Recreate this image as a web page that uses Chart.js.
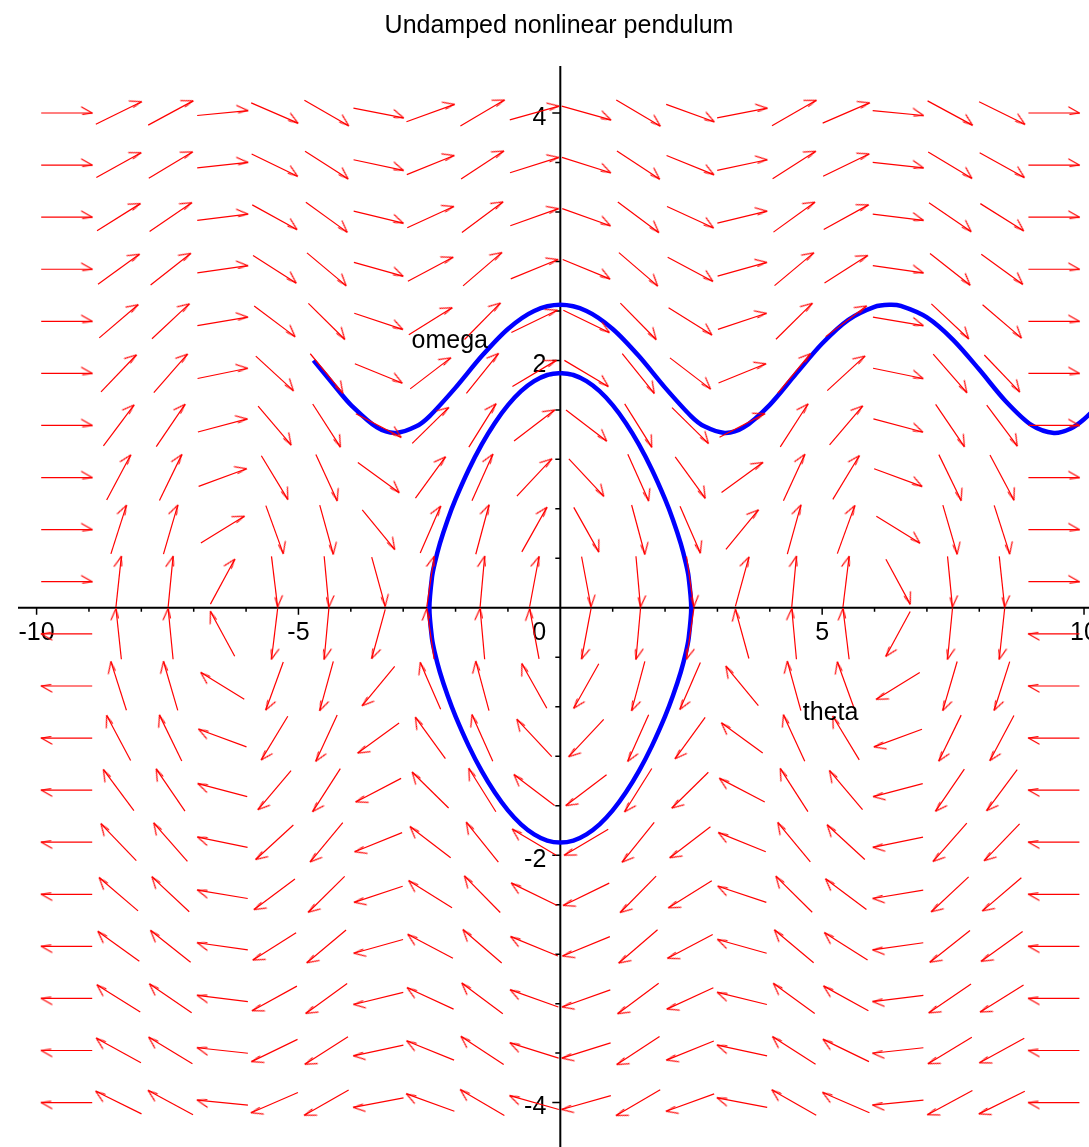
<!DOCTYPE html>
<html>
<head>
<meta charset="utf-8">
<script src="https://cdn.jsdelivr.net/npm/chart.js@4.4.1/dist/chart.umd.min.js"></script>
<style>
  html, body { margin: 0; padding: 0; background: #ffffff; }
  canvas { display: block; }
</style>
</head>
<body>
<canvas id="c" width="1089" height="1147"></canvas>
<script>
// ---------------- data ----------------
const chartTitle = 'Undamped nonlinear pendulum';
const xAxisName = 'theta';
const yAxisName = 'omega';

// direction-field grid (20 x 20)
const thetaGrid = [-9.425, -8.433, -7.441, -6.449, -5.456, -4.464, -3.472, -2.480, -1.488, -0.496,
                    0.496,  1.488,  2.480,  3.472,  4.464,  5.456,  6.449,  7.441,  8.433,  9.425];
const omegaGrid = [-4.000, -3.579, -3.158, -2.737, -2.316, -1.895, -1.474, -1.053, -0.632, -0.211,
                    0.211,  0.632,  1.053,  1.474,  1.895,  2.316,  2.737,  3.158,  3.579,  4.000];
// d(omega)/dt for each theta column (d(theta)/dt is the row's omega)
const omegaDot = [0.000, 0.837, 0.916, 0.165, -0.736, -0.969, -0.325, 0.614, 0.997, 0.476,
                  -0.476, -0.997, -0.614, 0.325, 0.969, 0.736, -0.165, -0.916, -0.837, 0.000];

// solution curves [theta, omega]
const orbitRotating = [
  [-4.712, 2.000], [-4.5, 1.892], [-4.25, 1.763], [-4.0, 1.641], [-3.5, 1.458], [-3.142, 1.414],
  [-2.75, 1.467], [-2.5, 1.548], [-2.0, 1.780], [-1.5, 2.035], [-1.0, 2.254], [-0.5, 2.399],
  [0.0, 2.449], [0.5, 2.399], [1.0, 2.254], [1.5, 2.035], [2.0, 1.780], [2.5, 1.548],
  [2.75, 1.467], [3.142, 1.414], [3.5, 1.458], [4.0, 1.641], [4.5, 1.892], [5.0, 2.137],
  [5.5, 2.328], [6.0, 2.433], [6.283, 2.449], [6.5, 2.440], [7.0, 2.347], [7.5, 2.166],
  [8.0, 1.926], [8.5, 1.672], [9.0, 1.476], [9.425, 1.414], [9.75, 1.450], [10.0, 1.524], [10.3, 1.648]
];
const orbitClosed = [
  [0.0, 1.898], [0.25, 1.882], [0.5, 1.832], [0.75, 1.751], [1.0, 1.638], [1.25, 1.494],
  [1.5, 1.321], [1.75, 1.116], [2.0, 0.878], [2.15, 0.712], [2.3, 0.519], [2.4, 0.357],
  [2.45, 0.249], [2.5, 0.0], [2.45, -0.249], [2.4, -0.357], [2.3, -0.519], [2.15, -0.712],
  [2.0, -0.878], [1.75, -1.116], [1.5, -1.321], [1.25, -1.494], [1.0, -1.638], [0.75, -1.751],
  [0.5, -1.832], [0.25, -1.882], [0.0, -1.898], [-0.25, -1.882], [-0.5, -1.832], [-0.75, -1.751],
  [-1.0, -1.638], [-1.25, -1.494], [-1.5, -1.321], [-1.75, -1.116], [-2.0, -0.878], [-2.15, -0.712],
  [-2.3, -0.519], [-2.4, -0.357], [-2.45, -0.249], [-2.5, 0.0], [-2.45, 0.249], [-2.4, 0.357],
  [-2.3, 0.519], [-2.15, 0.712], [-2.0, 0.878], [-1.75, 1.116], [-1.5, 1.321], [-1.25, 1.494],
  [-1.0, 1.638], [-0.75, 1.751], [-0.5, 1.832], [-0.25, 1.882], [0.0, 1.898]
];

// axes ticks
const xTicks = [-10, -9, -8, -7, -6, -5, -4, -3, -2, -1, 1, 2, 3, 4, 5, 6, 7, 8, 9, 10];
const xLabelValues = [-10, -5, 0, 5, 10];
const xTickLabels = ['-10', '-5', '0', '5', '10'];
const yTicks = [-4, -3.6, -3.2, -2.8, -2.4, -2, -1.6, -1.2, -0.8, -0.4,
                 0.4, 0.8, 1.2, 1.6, 2, 2.4, 2.8, 3.2, 3.6, 4];
const yLabelValues = [4, 2, -2, -4];
const yTickLabels = ['4', '2', '-2', '-4'];

// ---------------- rendering ----------------
const FONT = '25px "Liberation Sans", Arial, Helvetica, sans-serif';
const ARROW_HALF = 25.5;

const arrowPts = [];
thetaGrid.forEach((t, i) => omegaGrid.forEach(w => arrowPts.push({ x: t, y: w, f: omegaDot[i] })));

function arrowAngle(c) {
  const p = c.raw;
  if (!p || p.f === undefined) return 0;
  const xs = c.chart.scales.x, ys = c.chart.scales.y;
  const kx = xs.getPixelForValue(1) - xs.getPixelForValue(0);
  const ky = ys.getPixelForValue(1) - ys.getPixelForValue(0);
  return Math.atan2(p.f * ky, p.y * kx) * 180 / Math.PI;
}

function makeHead() {
  const cv = document.createElement('canvas');
  cv.width = 60; cv.height = 20;
  const g = cv.getContext('2d');
  g.strokeStyle = '#ff0000';
  g.lineWidth = 1.2;
  g.lineCap = 'round';
  const tx = 30 + ARROW_HALF, ty = 10;
  g.beginPath();
  g.moveTo(tx, ty); g.lineTo(tx - 10.6, ty - 6.1);
  g.moveTo(tx, ty); g.lineTo(tx - 9.5, ty + 1.4);
  g.stroke();
  return cv;
}
const headImg = makeHead();

const axesPlugin = {
  id: 'mapleAxes',
  beforeDatasetsDraw(chart) {
    const { ctx, chartArea: a, scales: { x, y } } = chart;
    const x0 = x.getPixelForValue(0), y0 = y.getPixelForValue(0);
    ctx.save();
    ctx.strokeStyle = '#000000';
    ctx.lineWidth = 2;
    ctx.beginPath();
    ctx.moveTo(a.left, y0); ctx.lineTo(a.right, y0);
    ctx.moveTo(x0, a.top); ctx.lineTo(x0, a.bottom);
    ctx.stroke();
    ctx.lineWidth = 1.5;
    ctx.beginPath();
    xTicks.forEach(v => {
      const px = x.getPixelForValue(v);
      const len = xLabelValues.includes(v) ? 7 : 4;
      ctx.moveTo(px, y0); ctx.lineTo(px, y0 + len);
    });
    yTicks.forEach(v => {
      const py = y.getPixelForValue(v);
      const len = yLabelValues.includes(v) ? 8 : 5;
      ctx.moveTo(x0, py); ctx.lineTo(x0 - len, py);
    });
    ctx.stroke();
    ctx.fillStyle = '#000000';
    ctx.font = FONT;
    ctx.textBaseline = 'alphabetic';
    ctx.textAlign = 'center';
    xLabelValues.forEach((v, i) => {
      let px = x.getPixelForValue(v);
      if (v === 0) px -= 21;
      ctx.fillText(xTickLabels[i], px, y0 + 32);
    });
    ctx.textAlign = 'right';
    yLabelValues.forEach((v, i) => {
      ctx.fillText(yTickLabels[i], x0 - 14, y.getPixelForValue(v) + 11.5);
    });
    ctx.restore();
  },
  afterDatasetsDraw(chart) {
    const { ctx, scales: { x, y } } = chart;
    ctx.save();
    ctx.fillStyle = '#000000';
    ctx.font = FONT;
    ctx.textBaseline = 'alphabetic';
    ctx.textAlign = 'center';
    ctx.fillText(chartTitle, 559, 32.5);
    ctx.textAlign = 'left';
    ctx.fillText(yAxisName, x.getPixelForValue(-2.84), y.getPixelForValue(2.10));
    ctx.fillText(xAxisName, x.getPixelForValue(4.63), y.getPixelForValue(-0.907));
    ctx.restore();
  }
};

new Chart(document.getElementById('c'), {
  type: 'scatter',
  data: {
    datasets: [
      {
        label: 'field',
        data: arrowPts,
        pointStyle: 'line',
        pointRadius: ARROW_HALF,
        pointHoverRadius: ARROW_HALF,
        pointBorderColor: '#ff0000',
        pointBackgroundColor: '#ff0000',
        pointBorderWidth: 1.2,
        pointRotation: arrowAngle,
        showLine: false,
        order: 0
      },
      {
        label: 'heads',
        data: arrowPts,
        pointStyle: headImg,
        pointRadius: ARROW_HALF,
        pointHoverRadius: ARROW_HALF,
        pointBorderWidth: 0,
        pointRotation: arrowAngle,
        showLine: false,
        order: 0
      },
      {
        label: 'rotating',
        data: orbitRotating.map(([t, w]) => ({ x: t, y: w })),
        showLine: true,
        borderColor: '#0000ff',
        borderWidth: 4.5,
        pointRadius: 0,
        tension: 0.3,
        fill: false,
        order: 1
      },
      {
        label: 'closed',
        data: orbitClosed.map(([t, w]) => ({ x: t, y: w })),
        showLine: true,
        borderColor: '#0000ff',
        borderWidth: 4.5,
        pointRadius: 0,
        tension: 0.3,
        fill: false,
        order: 1
      }
    ]
  },
  options: {
    responsive: false,
    animation: false,
    devicePixelRatio: 1,
    events: [],
    layout: { autoPadding: false, padding: { left: 18, top: 66, right: 0, bottom: 0 } },
    scales: {
      x: { type: 'linear', min: -10.355, max: 10.095, display: false },
      y: { type: 'linear', min: -4.359, max: 4.380, display: false }
    },
    plugins: {
      legend: { display: false },
      tooltip: { enabled: false },
      title: { display: false }
    }
  },
  plugins: [axesPlugin]
});
</script>
</body>
</html>
